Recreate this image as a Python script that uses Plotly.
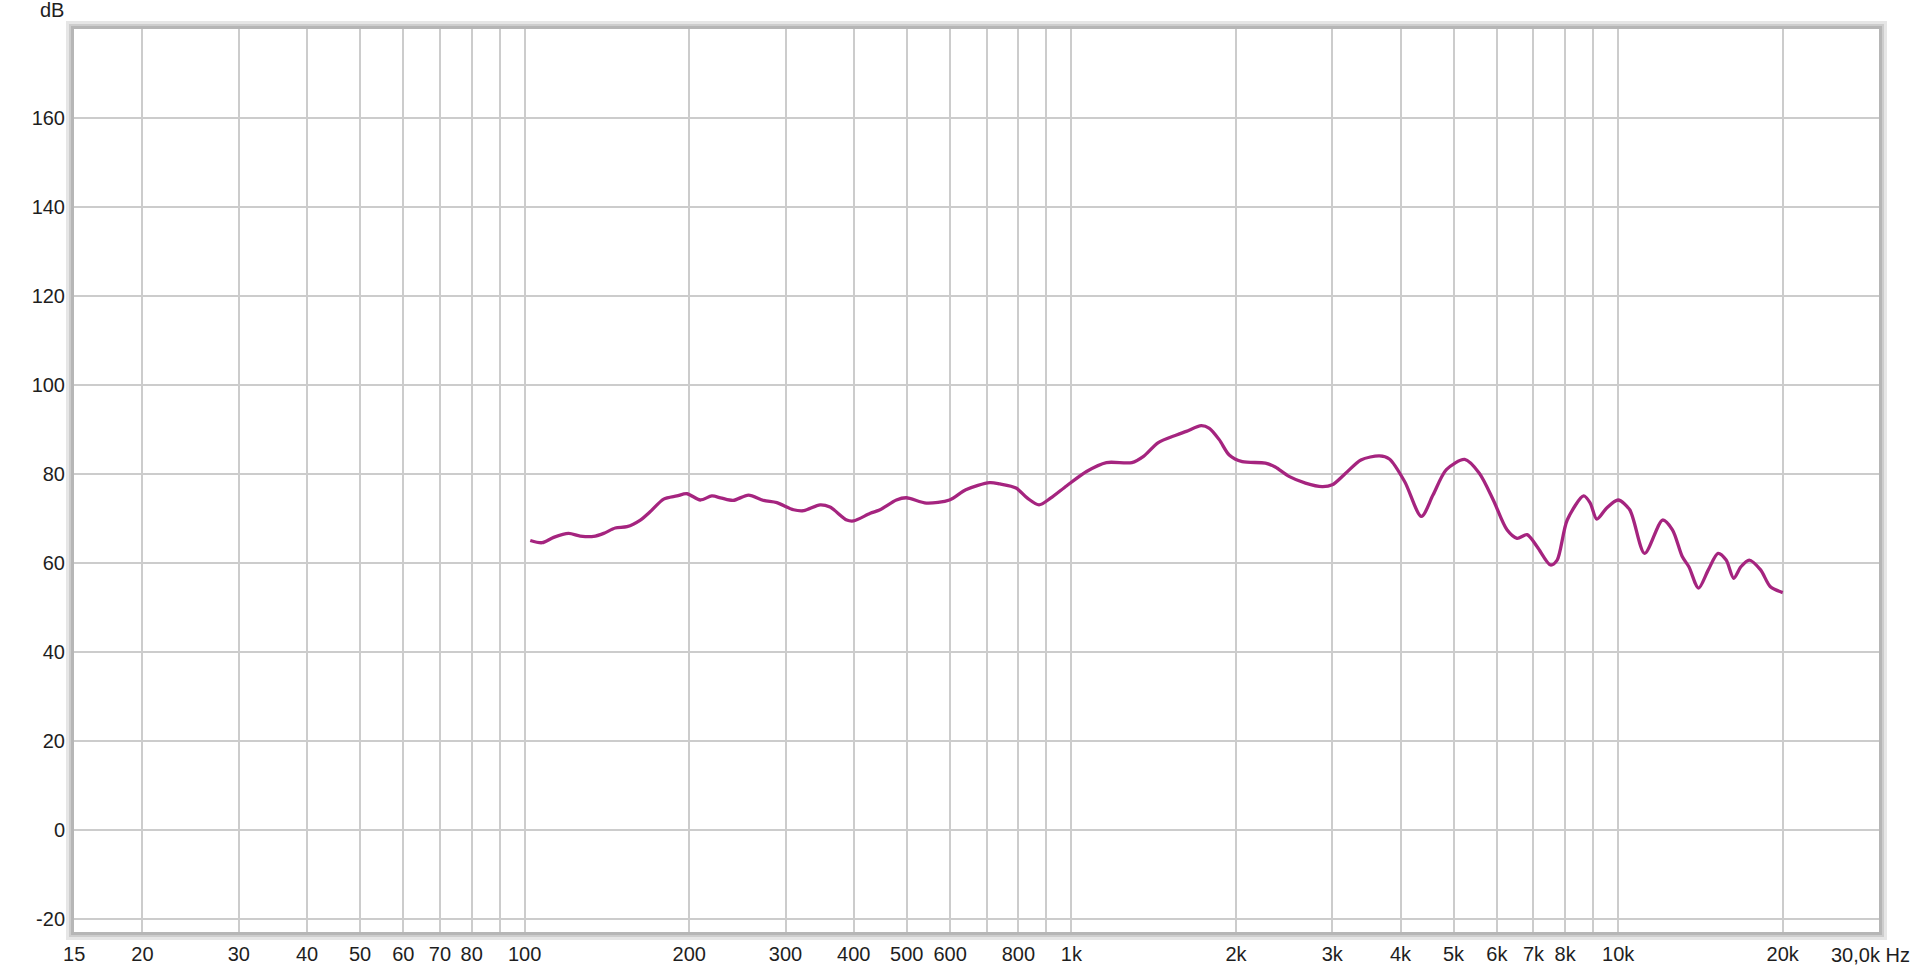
import math
import plotly.graph_objects as go

# ---- data ----
freq_hz = [102.4, 107.6, 113, 120.3, 126.4, 133.7, 139.5, 146.5, 153.9, 162.8,
           169.8, 179.6, 189.9, 198.1, 209.6, 220, 229.3, 240.6, 256.7, 273.5,
           289.3, 310.3, 324, 347.1, 361.8, 388.3, 399.6, 428.7, 446.8, 478.6,
           499, 543, 598.5, 641, 709, 740, 792, 831, 872.6, 916,
           980.8, 1066, 1159, 1290, 1355, 1442, 1557, 1623, 1728, 1788,
           1865, 1944, 2054, 2264, 2360, 2500, 2680, 2875, 3000, 3174,
           3385, 3660, 3816, 4071, 4367, 4585, 4851, 5240, 5573, 5910,
           6262, 6533, 6815, 7110, 7521, 7735, 8070, 8650, 8890, 9140,
           9530, 10000, 10500, 11180, 12060, 12570, 13100, 13470, 14030, 14620,
           15230, 15760, 16270, 16770, 17370, 18220, 18990, 20000]
spl_db = [65.1, 64.6, 65.8, 66.7, 66.1, 66.0, 66.7, 67.9, 68.2, 69.7,
          71.6, 74.4, 75.1, 75.6, 74.2, 75.1, 74.6, 74.1, 75.3, 74.1,
          73.6, 72.0, 71.8, 73.1, 72.6, 69.7, 69.5, 71.2, 72.0, 74.2,
          74.7, 73.5, 74.2, 76.5, 78.1, 77.8, 76.9, 74.6, 73.1, 74.6,
          77.4, 80.6, 82.6, 82.6, 84.0, 87.1, 88.8, 89.6, 90.9, 90.3,
          87.7, 84.3, 82.8, 82.5, 81.6, 79.5, 78.0, 77.2, 77.6, 80.2,
          83.2, 84.1, 83.4, 78.3, 70.5, 75.3, 81.0, 83.3, 80.2, 74.2,
          67.5, 65.6, 66.4, 63.7, 59.6, 60.7, 69.7, 75.1, 73.5, 69.9,
          72.4, 74.2, 72.0, 62.2, 69.7, 67.5, 61.5, 59.2, 54.4, 58.5,
          62.2, 60.7, 56.6, 59.2, 60.7, 58.5, 54.7, 53.4]

x_grid = [15, 20, 30, 40, 50, 60, 70, 80, 90, 100, 200, 300, 400, 500, 600, 700, 800, 900,
          1000, 2000, 3000, 4000, 5000, 6000, 7000, 8000, 9000, 10000, 20000]
x_labels = ["15", "20", "30", "40", "50", "60", "70", "80", "", "100", "200", "300", "400",
            "500", "600", "", "800", "", "1k", "2k", "3k", "4k", "5k", "6k", "7k", "8k", "",
            "10k", "20k"]
y_ticks = [-20, 0, 20, 40, 60, 80, 100, 120, 140, 160]
y_labels = ["-20", "0", "20", "40", "60", "80", "100", "120", "140", "160"]
x_min, x_max = 14.99, 30000
y_min, y_max = -22.85, 180
y_unit = "dB"
x_end_label = "30,0k Hz"

W, H = 1916, 973
ML, MR, MT, MB = 74, 37, 29, 41
PW, PH = W - ML - MR, H - MT - MB
FONT = "Liberation Sans, Arial, sans-serif"
TXT = "#1e1e1e"

fig = go.Figure()
fig.add_trace(go.Scatter(
    x=freq_hz, y=spl_db, mode="lines",
    line=dict(color="#a5247f", width=3.3, shape="spline", smoothing=0.8),
    hoverinfo="x+y", showlegend=False,
))

shapes = []
def border(off_in, off_out, color):
    c = (off_in + off_out) / 2.0
    w = off_out - off_in
    shapes.append(dict(
        type="rect", xref="paper", yref="paper",
        x0=-c / PW, x1=1 + c / PW, y0=-c / PH, y1=1 + c / PH,
        line=dict(color=color, width=w), fillcolor="rgba(0,0,0,0)", layer="above",
    ))
border(5.0, 8.0, "#e6e6e6")
border(3.0, 5.0, "#cdcdcd")
border(0.0, 3.0, "#b6b6b6")

fig.update_layout(
    width=W, height=H,
    margin=dict(l=ML, r=MR, t=MT, b=MB, pad=0, autoexpand=False),
    paper_bgcolor="white", plot_bgcolor="white",
    font=dict(family=FONT, size=20, color=TXT),
    shapes=shapes,
    xaxis=dict(
        type="log", range=[math.log10(x_min), math.log10(x_max)],
        tickmode="array", tickvals=x_grid, ticktext=x_labels,
        showgrid=True, gridcolor="#cccccc", gridwidth=2,
        zeroline=False, showline=False, ticks="", automargin=False,
        tickfont=dict(family=FONT, size=20, color=TXT),
        ticklabelstandoff=8,
    ),
    yaxis=dict(
        range=[y_min, y_max],
        tickmode="array", tickvals=y_ticks, ticktext=y_labels,
        showgrid=True, gridcolor="#cccccc", gridwidth=2,
        zeroline=False, showline=False, ticks="", automargin=False,
        tickfont=dict(family=FONT, size=20, color=TXT),
        ticklabelstandoff=8,
    ),
    annotations=[
        dict(text=y_unit, xref="paper", yref="paper",
             x=(52 - ML) / PW, y=1 + (MT - 10) / PH,
             xanchor="center", yanchor="middle", showarrow=False,
             font=dict(family=FONT, size=20, color=TXT)),
        dict(text=x_end_label, xref="paper", yref="paper",
             x=(1912 - ML) / PW, y=-(955 - (H - MB)) / PH,
             xanchor="right", yanchor="middle", showarrow=False,
             font=dict(family=FONT, size=20, color=TXT)),
    ],
)

fig.write_html("out.html", config={"displayModeBar": False},
               post_script="document.body.style.margin='0';document.body.style.overflow='hidden';")
